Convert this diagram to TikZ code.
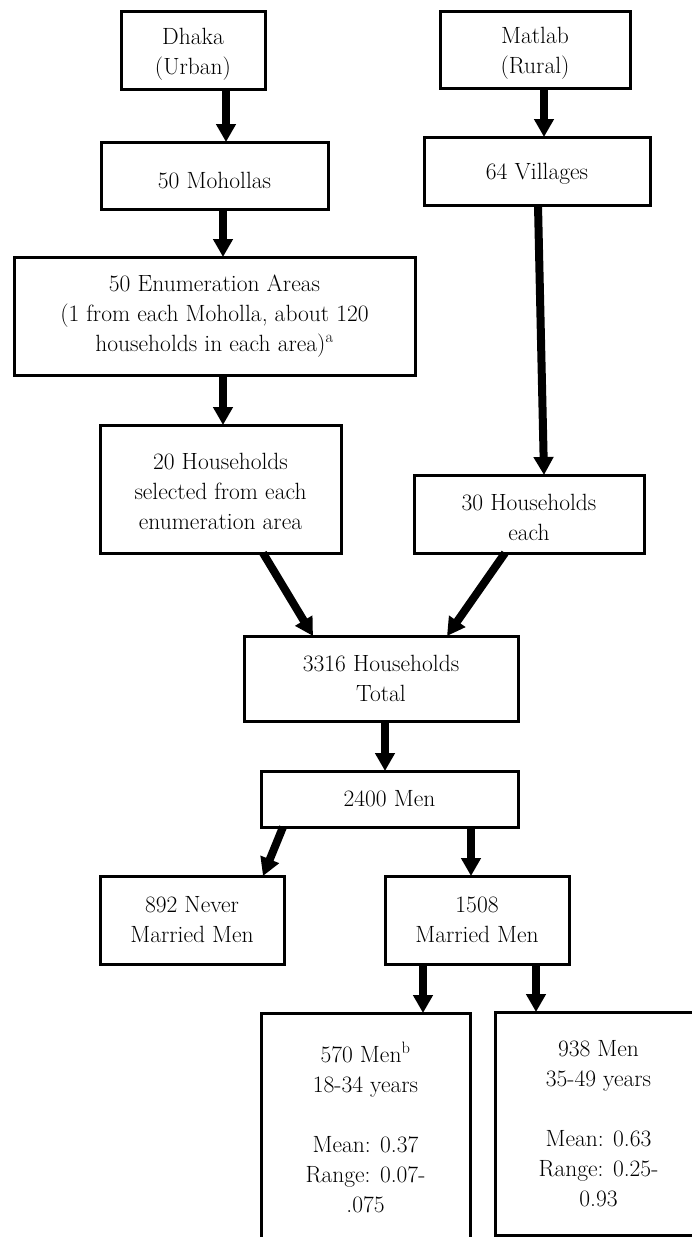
\documentclass[tikz,border=0pt]{standalone}
\usepackage{fontspec}
\usetikzlibrary{arrows.meta}
\newcommand\mystrut[1]{\rule{0pt}{#1pt}}
\begin{document}
\begin{tikzpicture}[x=1pt,y=-1pt,
  box/.style={draw, line width=3pt, rectangle, inner sep=0pt, outer sep=0pt,
    align=center, font=\fontsize{23.5}{30}\selectfont},
  arr/.style={line width=8pt, -{Triangle[width=19pt,length=18pt]}}]
\useasboundingbox (0,0) rectangle (692,1237);
\fill[white] (0,0) rectangle (692,1237);
\clip (0,0) rectangle (692,1237);
% boxes
\node[box, minimum width=144, minimum height=78] (dhaka) at (193,50) {\mystrut{25.5}Dhaka\\(Urban)};
\node[box, minimum width=190, minimum height=77] (matlab) at (535,49.5) {\mystrut{23.5}Matlab\\(Rural)};
\node[box, minimum width=227, minimum height=67] (moh) at (214.5,175.5) {\mystrut{27}50 Mohollas};
\node[box, minimum width=226, minimum height=68] (vil) at (537,171) {\mystrut{21.5}64 Villages};
\node[box, minimum width=401, minimum height=118] (enum) at (214.5,316)
  {50 Enumeration Areas\\(1 from each Moholla, about 120\\households in each area)\textsuperscript{a}};
\node[box, minimum width=241, minimum height=128] (hh20) at (220.5,489)
  {\mystrut{21.5}20 Households\\selected from each\\enumeration area};
\node[box, minimum width=230, minimum height=78] (hh30) at (529,514) {\mystrut{23.5}30 Households\\each};
\node[box, minimum width=274, minimum height=85] (tot) at (381,678.5) {3316 Households\\Total};
\node[box, minimum width=257, minimum height=56] (men) at (389.5,799) {2400 Men};
\node[box, minimum width=184, minimum height=88] (never) at (192,920) {892 Never\\Married Men};
\node[box, minimum width=184, minimum height=88] (married) at (477,920) {1508\\Married Men};
\node[box, minimum width=209, minimum height=228] (young) at (365.5,1127)
  {570 Men\textsuperscript{b}\\18-34 years\\[30pt]Mean: 0.37\\Range: 0.07-\\.075};
\node[box, minimum width=207, minimum height=223] (old) at (598.5,1123.5)
  {938 Men\\35-49 years\\[30pt]Mean: 0.63\\Range: 0.25-\\0.93};
% arrows
\draw[arr] ([xshift=33]dhaka.south) -- ([xshift=11.5]moh.north);
\draw[arr] ([xshift=9]matlab.south) -- ([xshift=7]vil.north);
\draw[arr] ([xshift=8.5]moh.south) -- ([xshift=8.5]enum.north);
\draw[arr] ([xshift=1]vil.south) -- ([xshift=15]hh30.north);
\draw[arr] ([xshift=8.5]enum.south) -- ([xshift=2.5]hh20.north);
\draw[arr] ([xshift=42.5]hh20.south) -- ([xshift=-68]tot.north);
\draw[arr] ([xshift=-24]hh30.south) -- ([xshift=66]tot.north);
\draw[arr] ([xshift=4]tot.south) -- ([xshift=-4.5]men.north);
\draw[arr] ([xshift=-106.5]men.south) -- ([xshift=71]never.north);
\draw[arr] ([xshift=81.5]men.south) -- ([xshift=-6]married.north);
\draw[arr] ([xshift=-54]married.south) -- ([xshift=57.5]young.north);
\draw[arr] ([xshift=59]married.south) -- ([xshift=-62.5]old.north);
\end{tikzpicture}
\end{document}
